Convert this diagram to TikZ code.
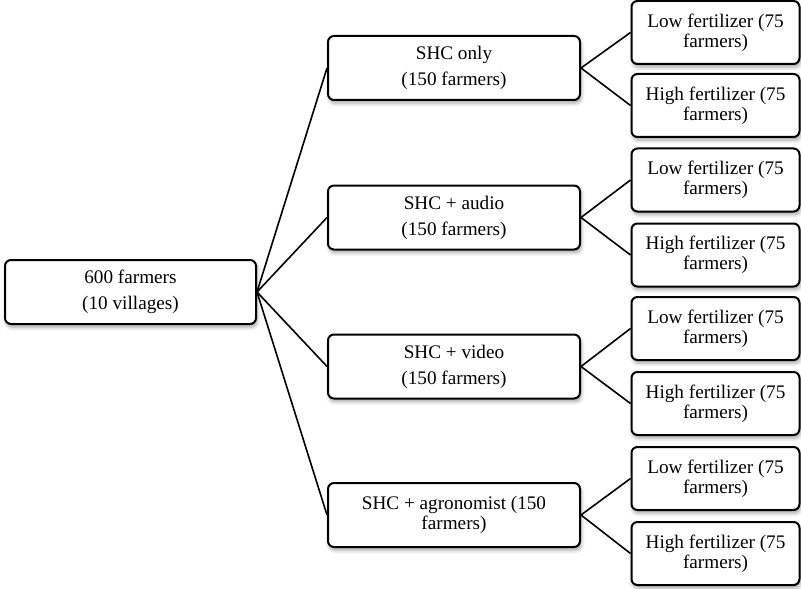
\documentclass[tikz,border=0pt]{standalone}
\usepackage{fontspec}
\setmainfont{Liberation Serif}
\usepackage{tikz}
\usetikzlibrary{shadows.blur}
\tikzset{
  box/.style={draw=black, line width=1pt, rounded corners=3pt, fill=white,
    align=center, inner sep=0pt,
    font=\fontsize{9.6}{10}\selectfont,
    blur shadow={shadow xshift=0.6pt, shadow yshift=-1.6pt, shadow blur steps=6, shadow opacity=35}},
  rootbox/.style={box, minimum width=125.5pt, minimum height=32pt},
  armbox/.style={box, minimum width=126pt, minimum height=32pt},
  leafbox/.style={box, minimum width=84pt, minimum height=31.5pt},
  link/.style={line width=0.8pt}
}

\begin{document}
\begin{tikzpicture}[x=0.5pt, y=-0.5pt]
        \useasboundingbox (0,0) rectangle (801,588);

        % Root group
        \node[rootbox] (root) at (130.5,292) {600 farmers\\[3pt](10 villages)};

        % Treatment arms
        \node[armbox] (shc1) at (454,68) {SHC only\\[3pt](150 farmers)};
        \node[armbox] (shc2) at (454,217.5) {SHC + audio\\[3pt](150 farmers)};
        \node[armbox] (shc3) at (454,366.5) {SHC + video\\[3pt](150 farmers)};
        \node[armbox] (shc4) at (454,515) {SHC + agronomist (150\\farmers)};

        % Fertilizer groups
        \node[leafbox] (low1) at (715.5,32.5) {Low fertilizer (75\\farmers)};
        \node[leafbox] (high1) at (715.5,105.5) {High fertilizer (75\\farmers)};
        \node[leafbox] (low2) at (715.5,180) {Low fertilizer (75\\farmers)};
        \node[leafbox] (high2) at (715.5,255) {High fertilizer (75\\farmers)};
        \node[leafbox] (low3) at (715.5,328.5) {Low fertilizer (75\\farmers)};
        \node[leafbox] (high3) at (715.5,403.5) {High fertilizer (75\\farmers)};
        \node[leafbox] (low4) at (715.5,478.5) {Low fertilizer (75\\farmers)};
        \node[leafbox] (high4) at (715.5,553.5) {High fertilizer (75\\farmers)};

        % Lines from root to arms
        \draw[link] (root.east) -- (shc1.west);
        \draw[link] (root.east) -- (shc2.west);
        \draw[link] (root.east) -- (shc3.west);
        \draw[link] (root.east) -- (shc4.west);

        % Lines from arms to fertilizer groups
        \draw[link] (shc1.east) -- (low1.west);
        \draw[link] (shc1.east) -- (high1.west);
        \draw[link] (shc2.east) -- (low2.west);
        \draw[link] (shc2.east) -- (high2.west);
        \draw[link] (shc3.east) -- (low3.west);
        \draw[link] (shc3.east) -- (high3.west);
        \draw[link] (shc4.east) -- (low4.west);
        \draw[link] (shc4.east) -- (high4.west);

\end{tikzpicture}
\end{document}
